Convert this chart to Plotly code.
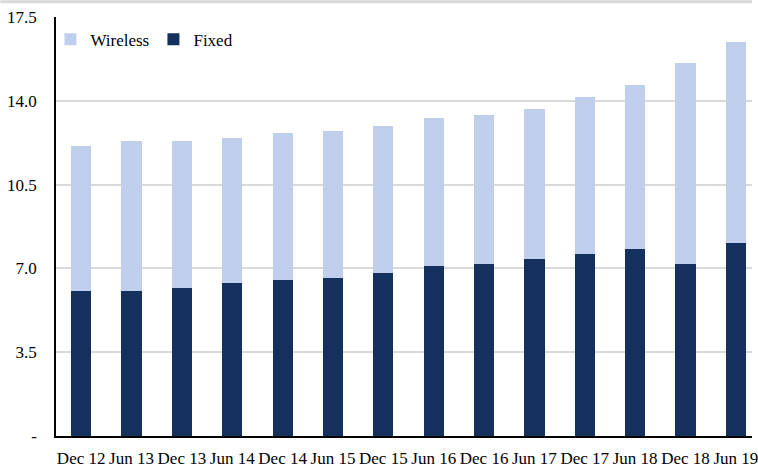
import plotly.graph_objects as go

# Half-year periods
periods = ["Dec 12", "Jun 13", "Dec 13", "Jun 14", "Dec 14", "Jun 15", "Dec 15",
           "Jun 16", "Dec 16", "Jun 17", "Dec 17", "Jun 18", "Dec 18", "Jun 19"]

# Stacked components
fixed = [6.07, 6.07, 6.19, 6.38, 6.53, 6.58, 6.79, 7.12, 7.20, 7.40, 7.60, 7.82, 7.19, 8.07]
wireless = [6.04, 6.25, 6.13, 6.08, 6.13, 6.15, 6.15, 6.15, 6.20, 6.26, 6.55, 6.86, 8.37, 8.37]

# Y axis ticks
y_ticks = [0, 3.5, 7.0, 10.5, 14.0, 17.5]
y_tick_text = ["-", "3.5", "7.0", "10.5", "14.0", "17.5"]

FIXED_COLOR = "#13315C"
WIRELESS_COLOR = "#BFCEEA"
FONT = "Liberation Serif, Times New Roman, serif"

fig = go.Figure()
fig.add_trace(go.Bar(x=periods, y=fixed, name="Fixed",
                     marker=dict(color=FIXED_COLOR, line=dict(width=0))))
fig.add_trace(go.Bar(x=periods, y=wireless, name="Wireless",
                     marker=dict(color=WIRELESS_COLOR, line=dict(width=0))))

fig.update_layout(
    width=758, height=468,
    margin=dict(l=56, r=0, t=17, b=27),
    barmode="stack",
    bargap=0.6,
    plot_bgcolor="white",
    paper_bgcolor="white",
    font=dict(family=FONT, size=17, color="black"),
    showlegend=True,
    legend=dict(orientation="h", traceorder="reversed",
                x=-0.008, xanchor="left", y=0.946, yanchor="middle",
                bgcolor="rgba(0,0,0,0)", font=dict(family=FONT, size=17),
                itemwidth=30, entrywidth=58, itemclick=False),
    xaxis=dict(type="category", range=[-0.5, 13.32],
               showline=True, linecolor="black", linewidth=1.5,
               showgrid=False, ticks="", ticklabelstandoff=6,
               tickfont=dict(family=FONT, size=17)),
    yaxis=dict(range=[0, 17.5], tickvals=y_ticks, ticktext=y_tick_text,
               showline=True, linecolor="black", linewidth=1.5,
               showgrid=True, gridcolor="#D9D9D9", gridwidth=1.5,
               ticks="", ticklabelstandoff=14, zeroline=False,
               tickfont=dict(family=FONT, size=17)),
    shapes=[dict(type="rect", xref="paper", yref="paper",
                 x0=-0.08, x1=1.0, y0=1.0 + 14 / 424, y1=1.0 + 17 / 424,
                 fillcolor="#D9D9D9", line=dict(width=0), layer="below")],
)

fig.write_html("out.html")
